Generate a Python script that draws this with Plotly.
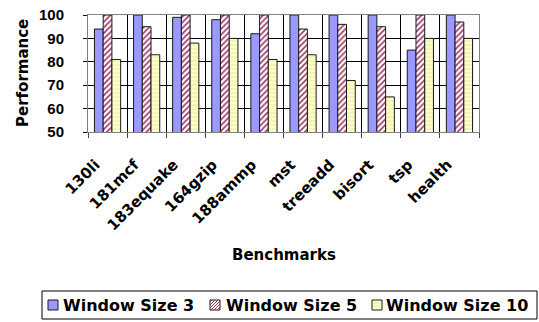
import plotly.graph_objects as go

benchmarks = ["130li", "181mcf", "183equake", "164gzip", "188ammp", "mst", "treeadd", "bisort", "tsp", "health"]
window3 = [94, 100, 99, 98, 92, 100, 100, 100, 85, 100]
window5 = [100, 95, 100, 100, 100, 94, 96, 95, 100, 97]
window10 = [81, 83, 88, 90, 81, 83, 72, 65, 90, 90]
series_names = ["Window Size 3", "Window Size 5", "Window Size 10"]
y_ticks = [50, 60, 70, 80, 90, 100]

W, H = 539, 322
ML, MR, MT, MB = 88, 60, 15, 190
PW, PH = W - ML - MR, H - MT - MB

WIDE = "DejaVu Sans, Verdana, sans-serif"
ARIAL = "Arial, Liberation Sans, sans-serif"

BLUE = "#9999FF"
PINK = "#993366"
YELLOW = "#FFFFCC"
EDGE = "#1a1a1a"


def px(x):
    return (x - ML) / PW


def py(y):
    return (H - MB - y) / PH


fig = go.Figure()
fig.add_bar(x=benchmarks, y=window3, name=series_names[0],
            marker=dict(color=BLUE, line=dict(color=EDGE, width=1)))
fig.add_bar(x=benchmarks, y=window5, name=series_names[1],
            marker=dict(color="#FFFFFF", line=dict(color=EDGE, width=1),
                        pattern=dict(shape="/", fgcolor=PINK, bgcolor="#FFFFFF",
                                     size=4, solidity=0.38, fillmode="replace")))
fig.add_bar(x=benchmarks, y=window10, name=series_names[2],
            marker=dict(color=YELLOW, line=dict(color=EDGE, width=1),
                        pattern=dict(shape="-", fgcolor="#EEEEAA", bgcolor=YELLOW,
                                     size=4, solidity=0.3, fillmode="replace")))

# ---- custom legend (box, swatches, labels) ----
shapes = []
annotations = []
shapes.append(dict(type="rect", xref="paper", yref="paper",
                   x0=px(42), x1=px(537), y0=py(291), y1=py(319),
                   line=dict(color="black", width=1), fillcolor="rgba(0,0,0,0)"))
swatch_x = [48, 210, 372]
text_x = [61, 224, 384]
sw_fill = [BLUE, "#FFFFFF", YELLOW]
sy0, sy1 = 300, 310
for i in range(3):
    x0, x1 = swatch_x[i], swatch_x[i] + 10
    shapes.append(dict(type="rect", xref="paper", yref="paper",
                       x0=px(x0), x1=px(x1), y0=py(sy1), y1=py(sy0),
                       line=dict(color=EDGE, width=1), fillcolor=sw_fill[i]))
    if i == 1:
        for c in range(-8, 10, 3):
            ax, ay = x0 + c, sy1
            bx, by = x0 + c + 10, sy0
            if ax < x0:
                ay = ay - (x0 - ax)
                ax = x0
            if bx > x1:
                by = by + (bx - x1)
                bx = x1
            if ax >= bx:
                continue
            shapes.append(dict(type="line", xref="paper", yref="paper",
                               x0=px(ax), x1=px(bx), y0=py(ay), y1=py(by),
                               line=dict(color=PINK, width=1)))
    if i == 2:
        for yy in [303, 306]:
            shapes.append(dict(type="line", xref="paper", yref="paper",
                               x0=px(x0 + 1), x1=px(x1 - 1), y0=py(yy), y1=py(yy),
                               line=dict(color="#E8E8A0", width=1)))
    annotations.append(dict(text=series_names[i], xref="paper", yref="paper",
                            x=px(text_x[i]), y=py(305.5), xanchor="left", yanchor="middle",
                            showarrow=False,
                            font=dict(family=WIDE, size=16, weight="bold", color="black")))

annotations.append(dict(text="Performance", xref="paper", yref="paper", x=px(22.5), y=0.5,
                        textangle=-90, showarrow=False,
                        font=dict(family=WIDE, size=15, weight="bold", color="black"),
                        xanchor="center", yanchor="middle"))
annotations.append(dict(text="Benchmarks", xref="paper", yref="paper", x=0.5, y=py(255),
                        showarrow=False,
                        font=dict(family=WIDE, size=15, weight="bold", color="black"),
                        xanchor="center", yanchor="middle"))

fig.update_layout(
    width=W, height=H,
    margin=dict(l=ML, r=MR, t=MT, b=MB, autoexpand=False),
    paper_bgcolor="white", plot_bgcolor="white",
    barmode="group", bargap=0.33, bargroupgap=0,
    font=dict(family=WIDE, color="black", size=14, weight="bold"),
    showlegend=False,
    xaxis=dict(tickangle=-45, tickson="boundaries", showgrid=True, gridcolor="black",
               gridwidth=1, ticks="outside", ticklen=5, tickcolor="#444444",
               showline=True, linecolor="#808080", mirror=True, automargin=False,
               ticklabelstandoff=17, ticklabelshift=-12,
               tickfont=dict(family=WIDE, size=15, weight="bold")),
    yaxis=dict(range=[50, 100], tickvals=y_ticks, showgrid=True, gridcolor="black",
               gridwidth=1, ticks="outside", ticklen=4, tickcolor="black",
               showline=True, linecolor="#808080", mirror=True, automargin=False,
               ticklabelstandoff=16,
               tickfont=dict(family=ARIAL, size=15, weight="bold")),
    shapes=shapes,
    annotations=annotations,
)

fig.write_html("out.html", config={"displayModeBar": False},
               post_script="document.body.style.margin='0';document.body.style.overflow='hidden';")
